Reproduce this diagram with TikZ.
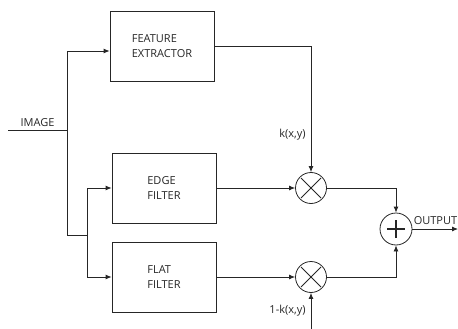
\documentclass[tikz,border=0pt]{standalone}
\usepackage{fontspec}
\setmainfont{Open Sans}
\usetikzlibrary{arrows.meta}

\tikzset{
    block/.style={draw, minimum width=104, minimum height=70, align=left, font=\fontsize{11}{15.5}\selectfont},
    mult/.style={draw, circle, minimum size=31, inner sep=0pt,
        path picture={\draw ([shift={(-10,-10)}]path picture bounding box.center) -- ([shift={(10,10)}]path picture bounding box.center)
                            ([shift={(-10,10)}]path picture bounding box.center) -- ([shift={(10,-10)}]path picture bounding box.center);}},
    adder/.style={draw, circle, minimum size=32, inner sep=0pt,
        path picture={\draw[line width=1.4pt] ([xshift=-9]path picture bounding box.center) -- ([xshift=9]path picture bounding box.center)
                            ([yshift=-9]path picture bounding box.center) -- ([yshift=9]path picture bounding box.center);}},
    lbl/.style={font=\fontsize{11}{12}\selectfont, inner sep=1pt},
}

\begin{document}
\begin{tikzpicture}[x=1pt, y=-1pt, >={Latex[length=6pt,width=5pt]}, line width=0.8pt, color=black!85]
    \useasboundingbox (0,0) rectangle (458,329);

    % blocks
    \node[block] (feat) at (162,46) {FEATURE\\EXTRACTOR};
    \node[block] (edge) at (164,188) {EDGE\\FILTER};
    \node[block] (flat) at (164,277) {FLAT\\FILTER};

    % multipliers and adder
    \node[mult] (m1) at (311,188) {};
    \node[mult] (m2) at (311,277) {};
    \node[adder] (sum) at (396,229) {};

    \coordinate (img) at (8,130);
    \coordinate (split1) at (67,130);
    \coordinate (split2) at (87,235);
    \coordinate (kin) at (311,329);
    \coordinate (out) at (458,229);

    % input and branches
    \draw (img) -- (split1) node[lbl, midway, above=2pt] {IMAGE};
    \draw[->] (split1) |- ([yshift=-5]feat.west);
    \draw (split1) |- (split2);
    \draw[->] (split2) |- (edge.west);
    \draw[->] (split2) |- (flat.west);

    % weights
    \draw[->] (feat.east) -| (m1.north) node[lbl, pos=0.85, left=4pt] {k(x,y)};
    \draw[->] (kin) -- (m2.south) node[lbl, midway, left=4pt] {1-k(x,y)};

    \draw[->] (edge.east) -- (m1.west);
    \draw[->] (flat.east) -- (m2.west);
    \draw[->] (m1.east) -| (sum.north);
    \draw[->] (m2.east) -| (sum.south);
    \draw[->] (sum.east) -- (out) node[lbl, pos=0, anchor=south west, yshift=3pt] {OUTPUT};
\end{tikzpicture}
\end{document}
